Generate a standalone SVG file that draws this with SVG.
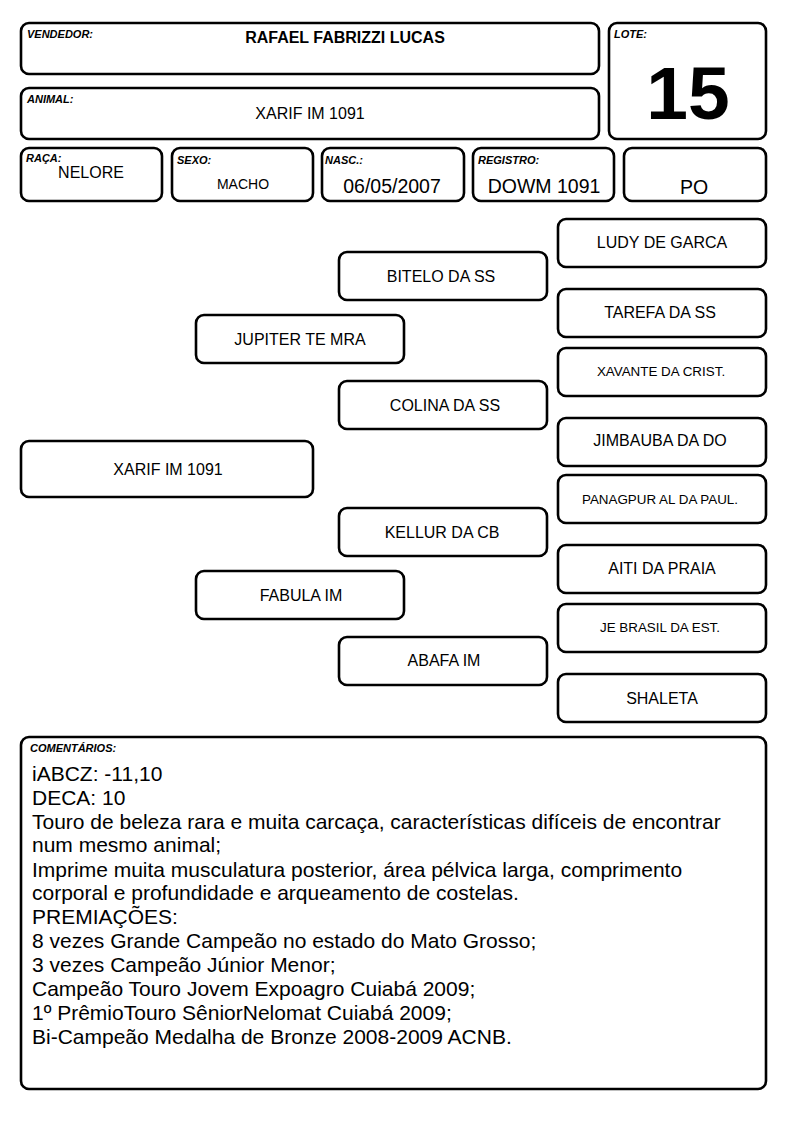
<svg xmlns="http://www.w3.org/2000/svg" width="794" height="1123" viewBox="0 0 794 1123">
<style>
.b{fill:#fff;stroke:#000;stroke-width:2.6}
.lbl{font-family:"Liberation Sans",Arial,sans-serif;font-size:11px;font-weight:bold;font-style:italic}
.t{font-family:"Liberation Sans",Arial,sans-serif;font-size:16px;text-anchor:middle}
.s{font-family:"Liberation Sans",Arial,sans-serif;font-size:13.4px;text-anchor:middle}
.v{font-family:"Liberation Sans",Arial,sans-serif;font-size:19.5px;text-anchor:middle}
.c{font-family:"Liberation Sans",Arial,sans-serif;font-size:21px}
</style>
<rect width="794" height="1123" fill="#fff"/>
<g id="vendedor"><rect class="b" x="21" y="23" width="578" height="51" rx="8"/><text class="lbl" x="27" y="38">VENDEDOR:</text><text x="345" y="43" font-family="Liberation Sans,Arial,sans-serif" font-size="16" font-weight="bold" text-anchor="middle">RAFAEL FABRIZZI LUCAS</text></g>
<g id="animal"><rect class="b" x="21" y="88" width="578" height="51" rx="8"/><text class="lbl" x="27" y="103">ANIMAL:</text><text class="t" x="310" y="119" font-size="15.5">XARIF IM 1091</text></g>
<g id="lote"><rect class="b" x="609" y="23" width="157" height="116" rx="8"/><text class="lbl" x="614" y="38">LOTE:</text><text x="688" y="119" font-family="Liberation Sans,Arial,sans-serif" font-size="75" font-weight="bold" text-anchor="middle">15</text></g>
<g id="raca"><rect class="b" x="21" y="148" width="141" height="53" rx="8"/><text class="lbl" x="26" y="162">RAÇA:</text><text class="t" x="91" y="178" font-size="15">NELORE</text></g>
<g id="sexo"><rect class="b" x="172" y="148" width="141" height="53" rx="8"/><text class="lbl" x="177" y="164">SEXO:</text><text x="243" y="189" font-family="Liberation Sans,Arial,sans-serif" font-size="14" text-anchor="middle">MACHO</text></g>
<g id="nasc"><rect class="b" x="322" y="148" width="142" height="53" rx="8"/><text class="lbl" x="325" y="164">NASC.:</text><text class="v" x="392" y="193">06/05/2007</text></g>
<g id="registro"><rect class="b" x="473" y="148" width="141" height="53" rx="8"/><text class="lbl" x="478" y="164">REGISTRO:</text><text class="v" x="544" y="193">DOWM 1091</text></g>
<g id="categoria"><rect class="b" x="624" y="148" width="142" height="53" rx="8"/><text class="v" x="694" y="194">PO</text></g>
<g id="connectors"></g>
<g id="p-xarif"><rect class="b" x="21" y="441" width="292" height="56" rx="8"/><text class="t" x="168" y="475" font-size="15.5">XARIF IM 1091</text></g>
<g id="p-jupiter"><rect class="b" x="196" y="315" width="208" height="48" rx="8"/><text class="t" x="300" y="345" font-size="15.5">JUPITER TE MRA</text></g>
<g id="p-fabula"><rect class="b" x="196" y="571" width="208" height="48" rx="8"/><text class="t" x="301" y="601">FABULA IM</text></g>
<g id="p-bitelo"><rect class="b" x="339" y="252" width="208" height="48" rx="8"/><text class="t" x="441" y="282">BITELO DA SS</text></g>
<g id="p-colina"><rect class="b" x="339" y="381" width="208" height="48" rx="8"/><text class="t" x="445" y="411">COLINA DA SS</text></g>
<g id="p-kellur"><rect class="b" x="339" y="508" width="208" height="48" rx="8"/><text class="t" x="442" y="538">KELLUR DA CB</text></g>
<g id="p-abafa"><rect class="b" x="339" y="637" width="208" height="48" rx="8"/><text class="t" x="444" y="666">ABAFA IM</text></g>
<g id="p-ludy"><rect class="b" x="558" y="219" width="208" height="48" rx="8"/><text class="t" x="662" y="248">LUDY DE GARCA</text></g>
<g id="p-tarefa"><rect class="b" x="558" y="289" width="208" height="48" rx="8"/><text class="t" x="660" y="318">TAREFA DA SS</text></g>
<g id="p-xavante"><rect class="b" x="558" y="348" width="208" height="48" rx="8"/><text class="s" x="661" y="376">XAVANTE DA CRIST.</text></g>
<g id="p-jimbauba"><rect class="b" x="558" y="418" width="208" height="48" rx="8"/><text class="t" x="660" y="446">JIMBAUBA DA DO</text></g>
<g id="p-panagpur"><rect class="b" x="558" y="475" width="208" height="48" rx="8"/><text class="s" x="660" y="504">PANAGPUR AL DA PAUL.</text></g>
<g id="p-aiti"><rect class="b" x="558" y="545" width="208" height="48" rx="8"/><text class="t" x="662" y="574">AITI DA PRAIA</text></g>
<g id="p-jebrasil"><rect class="b" x="558" y="604" width="208" height="48" rx="8"/><text class="s" x="660" y="632">JE BRASIL DA EST.</text></g>
<g id="p-shaleta"><rect class="b" x="558" y="674" width="208" height="48" rx="8"/><text class="t" x="662" y="704">SHALETA</text></g>
<g id="comentarios"><rect class="b" x="21" y="737" width="745" height="352" rx="8"/><text class="lbl" x="30" y="752" font-size="10.5">COMENTÁRIOS:</text>
<text class="c" x="32" y="781">iABCZ: -11,10</text>
<text class="c" x="32" y="805">DECA: 10</text>
<text class="c" x="32" y="829">Touro de beleza rara e muita carcaça, características difíceis de encontrar</text>
<text class="c" x="32" y="852">num mesmo animal;</text>
<text class="c" x="32" y="877">Imprime muita musculatura posterior, área pélvica larga, comprimento</text>
<text class="c" x="32" y="900">corporal e profundidade e arqueamento de costelas.</text>
<text class="c" x="32" y="924">PREMIAÇÕES:</text>
<text class="c" x="32" y="948">8 vezes Grande Campeão no estado do Mato Grosso;</text>
<text class="c" x="32" y="972">3 vezes Campeão Júnior Menor;</text>
<text class="c" x="32" y="996">Campeão Touro Jovem Expoagro Cuiabá 2009;</text>
<text class="c" x="32" y="1020">1º PrêmioTouro SêniorNelomat Cuiabá 2009;</text>
<text class="c" x="32" y="1044">Bi-Campeão Medalha de Bronze 2008-2009 ACNB.</text>
</g>
</svg>
